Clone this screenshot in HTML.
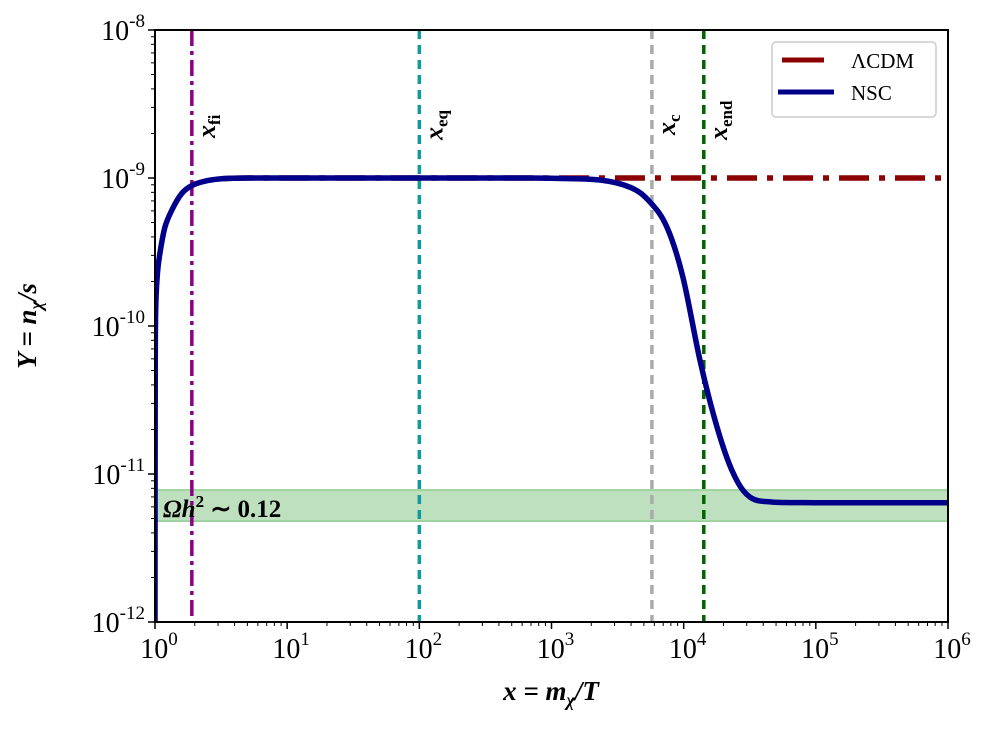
<!DOCTYPE html>
<html><head><meta charset="utf-8"><style>
body{margin:0;background:#fff}
svg text{font-family:"Liberation Serif",serif}
</style></head><body>
<svg id="chart" width="988" height="727" xmlns="http://www.w3.org/2000/svg">
<defs><clipPath id="clip"><rect x="155" y="30" width="793" height="592"/></clipPath></defs>
<g id="plot" clip-path="url(#clip)"></g>
<g id="axes"></g>
<text x="163" y="517" font-size="25" font-weight="bold"><tspan font-style="italic">Ωh</tspan><tspan dy="-10" font-size="17">2</tspan><tspan dy="10"> ∼ 0.12</tspan></text>
<g>
<rect x="772" y="42" width="164" height="75" rx="4" fill="#fff" stroke="#ccc" stroke-width="1.5"/>
<line x1="782" x2="824" y1="60" y2="60" stroke="#8b0000" stroke-width="5"/>
<text x="851" y="68" font-size="21">ΛCDM</text>
<line x1="778" x2="834" y1="92" y2="92" stroke="#00008b" stroke-width="5"/>
<text x="851" y="100" font-size="21">NSC</text>
</g>
<text x="551" y="700" text-anchor="middle" font-size="27" font-weight="bold" font-style="italic">x = m<tspan dy="6" font-size="18">χ</tspan><tspan dy="-6">/T</tspan></text>
<text x="36" y="326" text-anchor="middle" font-size="27" font-weight="bold" font-style="italic" transform="rotate(-90 36 326)">Y = n<tspan dy="6" font-size="18">χ</tspan><tspan dy="-6">/s</tspan></text>
</svg>
<script>
const nscX=[1.0,1.003,1.01,1.04,1.09,1.19,1.345,1.6,1.94,2.5,3.27,5,10,100,500,1000,2320,4000,5550,7460,9870,13270,17800,23600,31600,47300,100000,1000000];
const nscY=[1e-12,3e-11,1.2e-10,2.2e-10,3.1e-10,4.67e-10,6.1e-10,7.9e-10,8.97e-10,9.6e-10,9.9e-10,1e-9,1e-9,1e-9,1e-9,9.95e-10,9.7e-10,8.6e-10,6.9e-10,4.67e-10,2.14e-10,5.9e-11,2.1e-11,1.02e-11,7e-12,6.46e-12,6.4e-12,6.4e-12];
const lcdmX=[3.27,5,10,100,1000,1000000];
const lcdmY=[9.9e-10,1e-9,1e-9,1e-9,1e-9,1e-9];
const vlineX=[1.9,100,5750,14200];
const vlineLabels=["fi","eq","c","end"];
const vlineColors=["#8b008b","#11999e","#aaaaaa","#006400"];
const bandLow=4.8e-12, bandHigh=7.8e-12;
const xTickExp=[0,1,2,3,4,5,6];
const yTickExp=[-12,-11,-10,-9,-8];

const X0=155,X1=948,Y0=622,Y1=30;
const sx=v=>X0+Math.log10(v)/6*(X1-X0);
const sy=v=>Y0-(Math.log10(v)+12)/4*(Y0-Y1);
const NS="http://www.w3.org/2000/svg";
function mk(tag,attrs,parent){const e=document.createElementNS(NS,tag);for(const k in attrs)e.setAttribute(k,attrs[k]);parent.appendChild(e);return e;}
const plot=document.getElementById('plot'), axes=document.getElementById('axes');

const band=mk('rect',{x:X0,y:sy(bandHigh),width:X1-X0,height:sy(bandLow)-sy(bandHigh),fill:'#bfe0bf',stroke:'#8fcc8f','stroke-width':1.5},plot);



const dashes=["16 5 4 5","9 6","9 6","9 6"];
vlineX.forEach((v,i)=>{
  const l=mk('line',{x1:sx(v),x2:sx(v),y1:Y1,y2:Y0,stroke:vlineColors[i],'stroke-width':3.5,'stroke-dasharray':dashes[i]},plot);
  
  
});

function smoothD(xs,ys){
  const p=xs.map((x,i)=>[sx(x),sy(ys[i])]);
  let d='M'+p[0][0].toFixed(1)+','+p[0][1].toFixed(1);
  for(let i=0;i<p.length-1;i++){
    const a=p[Math.max(i-1,0)],b=p[i],c=p[i+1],e=p[Math.min(i+2,p.length-1)];
    const t=1/6;
    let c1=[b[0]+(c[0]-a[0])*t,b[1]+(c[1]-a[1])*t];
    let c2=[c[0]-(e[0]-b[0])*t,c[1]-(e[1]-b[1])*t];
    const lo=Math.min(b[1],c[1]),hi=Math.max(b[1],c[1]);
    c1[1]=Math.min(hi,Math.max(lo,c1[1]));c2[1]=Math.min(hi,Math.max(lo,c2[1]));
    const lx=Math.min(b[0],c[0]),hx=Math.max(b[0],c[0]);
    c1[0]=Math.min(hx,Math.max(lx,c1[0]));c2[0]=Math.min(hx,Math.max(lx,c2[0]));
    d+='C'+c1[0].toFixed(1)+','+c1[1].toFixed(1)+' '+c2[0].toFixed(1)+','+c2[1].toFixed(1)+' '+c[0].toFixed(1)+','+c[1].toFixed(1);
  }
  return d;
}
const lc=mk('path',{d:smoothD(lcdmX,lcdmY),fill:'none',stroke:'#8b0000','stroke-width':5.5,'stroke-dasharray':'30 10 6 10'},plot);


const ns=mk('path',{d:smoothD(nscX,nscY),fill:'none',stroke:'#00008b','stroke-width':5.5,'stroke-linejoin':'round'},plot);



const fr=mk('rect',{x:X0,y:Y1,width:X1-X0,height:Y0-Y1,fill:'none',stroke:'#000','stroke-width':2},axes);



xTickExp.forEach(e=>{
  const x=sx(Math.pow(10,e));
  mk('line',{x1:x,x2:x,y1:Y0,y2:Y0+7,stroke:'#000','stroke-width':1.5},axes);
  const t=mk('text',{x:x+4,y:Y0+36,'text-anchor':'middle','font-size':28},axes);
  t.innerHTML='10<tspan dy="-13" font-size="19">'+e+'</tspan>';
  
  
  if(e<6)for(let k=2;k<10;k++){const xm=sx(k*Math.pow(10,e));mk('line',{x1:xm,x2:xm,y1:Y0,y2:Y0+4,stroke:'#000','stroke-width':1},axes);}
});
yTickExp.forEach(e=>{
  const y=sy(Math.pow(10,e));
  mk('line',{x1:X0-7,x2:X0,y1:y,y2:y,stroke:'#000','stroke-width':1.5},axes);
  const t=mk('text',{x:X0-10,y:y+10,'text-anchor':'end','font-size':28},axes);
  t.innerHTML='10<tspan dy="-13" font-size="19">'+e+'</tspan>';
  
  
  if(e<-8)for(let k=2;k<10;k++){const ym=sy(k*Math.pow(10,e));mk('line',{x1:X0-4,x2:X0,y1:ym,y2:ym,stroke:'#000','stroke-width':1},axes);}
});
const labY=[138,140,135,140];
vlineX.forEach((v,i)=>{
  const x=sx(v)+23, y=labY[i];
  const t=mk('text',{x:x,y:y,'font-size':26,'font-weight':'bold',transform:'rotate(-90 '+x+' '+y+')'},axes);
  t.innerHTML='<tspan font-style="italic">x</tspan><tspan dy="5" font-size="17">'+vlineLabels[i]+'</tspan>';
  
  
});
</script>
</body></html>
